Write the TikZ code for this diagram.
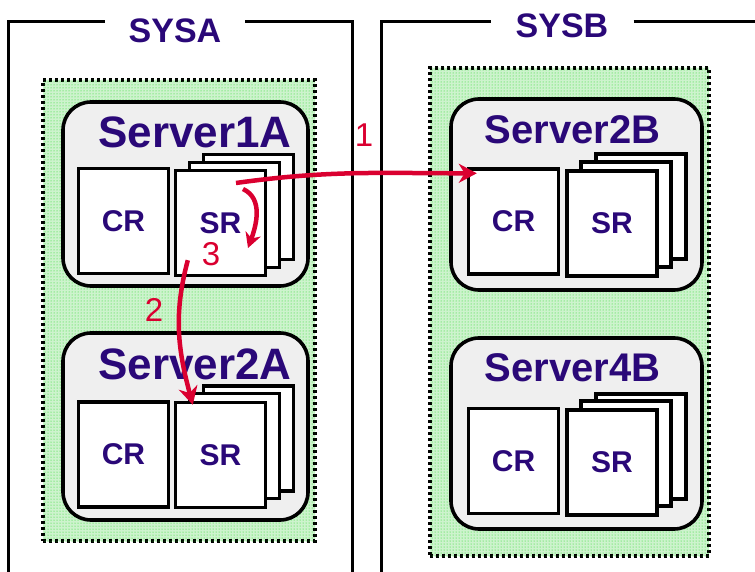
\documentclass[tikz,border=0pt]{standalone}
\usepackage{fontspec}
\setmainfont{Liberation Sans}
\usepackage{tikz}
\usetikzlibrary{positioning,arrows.meta,patterns,calc}

\definecolor{syspurple}{RGB}{42,8,120}
\definecolor{linkred}{RGB}{218,0,48}
\definecolor{servergray}{RGB}{239,239,239}
\definecolor{dotgreen}{RGB}{30,215,30}
\definecolor{groupgreen}{RGB}{205,243,205}

\begin{document}
\begin{tikzpicture}[x=1pt,y=1pt,
	frame/.style={draw=black,line width=3pt},
	syslabel/.style={text=syspurple,inner xsep=24pt,inner ysep=0pt,font=\fontsize{34}{34}\selectfont\bfseries},
	group/.style={draw=black,line width=3.2pt,dash pattern=on 3pt off 3pt,fill=groupgreen,
		postaction={pattern=dots,pattern color=dotgreen},inner sep=0pt},
	server/.style={draw=black,line width=3.6pt,fill=servergray,rounded corners=28pt,inner sep=0pt},
	servername/.style={text=syspurple,inner sep=0pt,font=\fontsize{44}{44}\selectfont\bfseries},
	box/.style={draw=black,line width=3.4pt,fill=white,inner sep=0pt,minimum width=90pt,minimum height=105pt,
		text=syspurple,font=\fontsize{30}{30}\selectfont\bfseries},
	steplabel/.style={text=linkred,inner sep=0pt,font=\fontsize{33}{33}\selectfont},
	link/.style={draw=linkred,line width=4.5pt,-{Stealth[length=18pt,width=19pt]}}]

		\useasboundingbox (0,0) rectangle (755,571);

		%systems
		\node[syslabel] (sysa) at (175,540) {SYSA};
		\node[syslabel,inner xsep=25pt] (sysb) at (562,545) {SYSB};
		\draw[frame] (sysa.west |- 0,549) -- (8,549) -- (8,-10);
		\draw[frame] (sysa.east |- 0,549) -- (352,549) -- (352,-10);
		\draw[frame] (sysb.west |- 0,549) -- (381,549) -- (381,-10);
		\draw[frame] (sysb.east |- 0,549) -- (765,549);

		%groups
		\node[group,minimum width=272pt,minimum height=461pt] (grpa) at (179,260.5) {};
		\node[group,minimum width=279pt,minimum height=488pt] (grpb) at (569.5,259) {};

		%servers on SYSA
		\node[server,minimum width=245pt,minimum height=184pt] (s1a) at (185.5,377) {};
		\node[server,minimum width=245pt,minimum height=187pt] (s2a) at (185.5,144.5) {};
		\node[servername] (t1a) at (195,439) {Server1A};
		\node[servername] (t2a) at (195,207) {Server2A};

		%servers on SYSB
		\node[server,minimum width=251pt,minimum height=191pt] (s2b) at (576.5,376.5) {};
		\node[server,minimum width=251pt,minimum height=191pt] (s4b) at (576.5,137.5) {};
		\node[servername,font=\fontsize{40}{40}\selectfont\bfseries] (t2b) at (572.5,441) {Server2B};
		\node[servername,font=\fontsize{40}{40}\selectfont\bfseries] (t4b) at (572.5,203) {Server4B};

		%regions of Server1A
		\node[box] (cr1a) at (123.5,350) {CR};
		\node[box] (sr1a-3) at (248.5,364) {};
		\node[box] (sr1a-2) at (234.5,356) {};
		\node[box] (sr1a) at (220.5,348) {SR};

		%regions of Server2A
		\node[box] (cr2a) at (123.5,116.5) {CR};
		\node[box] (sr2a-3) at (248.5,132.5) {};
		\node[box] (sr2a-2) at (234.5,125) {};
		\node[box] (sr2a) at (220.5,116) {SR};

		%regions of Server2B
		\node[box] (cr2b) at (513.5,349.5) {CR};
		\node[box] (sr2b-3) at (641,364.5) {};
		\node[box] (sr2b-2) at (626,356.5) {};
		\node[box] (sr2b) at (612,347.5) {SR};

		%regions of Server4B
		\node[box] (cr4b) at (513.5,110) {CR};
		\node[box] (sr4b-3) at (641,124.5) {};
		\node[box] (sr4b-2) at (626,117.5) {};
		\node[box] (sr4b) at (612,108.5) {SR};

		%links
		\draw[link] ($(sr1a.center)+(15.5,40)$) to[out=8,in=180] ($(cr2b.north west)+(10,-6)$);
		\draw[link] ($(sr1a.south west)+(14,17)$) to[out=-105,in=105] ($(sr2a.north west)+(19,-4)$);
		\draw[link,-{Stealth[length=15pt,width=16pt]}] ($(sr1a.center)+(22.5,34)$) to[out=-25,in=70] ($(sr1a.center)+(27.5,-25)$);

		%step numbers
		\node[steplabel] (l1) at (364,436) {1};
		\node[steplabel] (l2) at (154,261) {2};
		\node[steplabel] (l3) at (211,317) {3};

\end{tikzpicture}
\end{document}
